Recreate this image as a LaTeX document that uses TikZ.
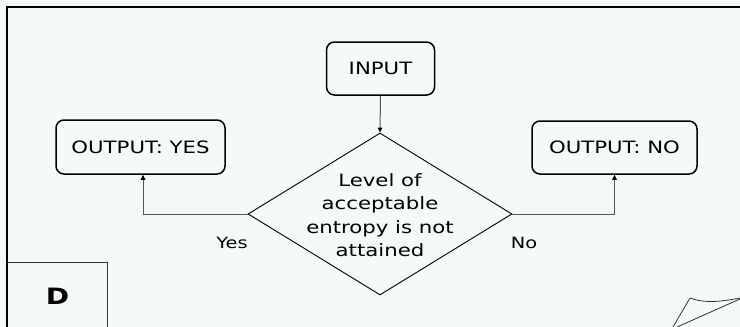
\documentclass[tikz,border=0pt]{standalone}
\usepackage{fontspec}
\setmainfont{DejaVu Sans}[FakeStretch=1.25]
\usetikzlibrary{shapes.geometric,arrows.meta}
\definecolor{paper}{RGB}{245,250,247}
\definecolor{wire}{RGB}{85,85,85}
\begin{document}
\begin{tikzpicture}[x=1pt,y=-1pt,
  every node/.style={inner sep=0pt,font=\fontsize{17}{23.5}\selectfont},
  termbox/.style={draw=black,line width=1.5pt,rounded corners=8pt},
  decision/.style={draw=black,line width=0.9pt,shape=diamond,minimum width=264pt,minimum height=162pt},
  conn/.style={draw=wire,line width=1pt,-{Triangle[length=5pt,width=4.5pt,color=black]}},
  branch/.style={font=\fontsize{15.5}{18}\selectfont},
  frameline/.style={draw=black,line width=1.6pt},
  thinline/.style={draw=black!80,line width=0.8pt}]
% paper and page extent
\fill[paper] (0,0) rectangle (740,327);
\useasboundingbox (0,0) rectangle (740,327);
% page frame (top and left edges)
\draw[frameline] (7,327) -- (7,6.7) -- (740,6.7);
% corner panel with its letter
\draw[thinline] (7,262) -- (107,262) -- (107,327);
\node[font=\fontsize{22.5}{24}\bfseries\selectfont] (dlabel) at (57.5,296) {D};
% curled page corner
\draw[thinline] (673,327) -- (690,298) .. controls (705,304) and (725,301) .. (740,298);
\draw[thinline] (677,327) -- (740,299);
% flowchart nodes
\node[termbox,minimum width=108pt,minimum height=53pt] (input) at (380.5,68.5) {INPUT};
\node[termbox,minimum width=169pt,minimum height=54pt] (yes) at (140.5,147) {OUTPUT: YES};
\node[termbox,minimum width=165pt,minimum height=53pt] (no) at (614.5,147.5) {OUTPUT: NO};
\node[decision] (dec) at (380,214) {};
\node[align=center] (dectext) at (380,215) {Level of\\acceptable\\entropy is not\\attained};
% connectors
\draw[conn] (input.south) -- (dec.north);
\draw[conn] (dec.west) -| ([xshift=2.5pt]yes.south);
\draw[conn] (dec.east) -| (no.south);
% branch labels
\node[branch] (yeslabel) at (232,243) {Yes};
\node[branch] (nolabel) at (524,243) {No};
\end{tikzpicture}
\end{document}
